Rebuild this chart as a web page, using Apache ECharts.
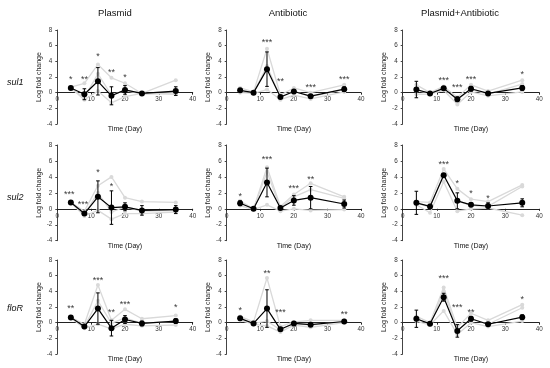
<!DOCTYPE html>
<html><head><meta charset="utf-8">
<script src="https://cdn.jsdelivr.net/npm/echarts@6/dist/echarts.min.js"></script>
<style>html,body{margin:0;padding:0;background:#fff}#c{width:550px;height:368px}</style>
</head><body><div id="c"></div>
<script>
const days = [4, 8, 12, 16, 20, 25, 35];
const xTicks = [0, 10, 20, 30, 40];
const yTicks = [-4, -2, 0, 2, 4, 6, 8];
const genes = ['sul1', 'sul2', 'floR'];
const treatments = ['Plasmid', 'Antibiotic', 'Plasmid+Antibiotic'];

// sul1 / Plasmid
const sul1_plasmid_mean = [0.6, -0.2, 1.45, -0.4, 0.35, -0.1, 0.2];
const sul1_plasmid_err = [0.1, 0.7, 1.75, 1.15, 0.55, 0.1, 0.55];
const sul1_plasmid_rep1 = [0.7, 1.2, 3.6, 1.9, 1.2, -0.1, 1.6];
const sul1_plasmid_rep2 = [0.5, -0.6, 2.4, -0.3, 0.3, -0.2, 0.0];
const sul1_plasmid_rep3 = [0.6, -0.9, 0.2, -1.3, -0.5, -0.1, -0.2];
const sul1_plasmid_stars = [[4, 1.9, '*'], [8, 1.9, '**'], [12, 4.9, '*'], [16, 2.85, '**'], [20, 2.2, '*']];
// sul1 / Antibiotic
const sul1_antibiotic_mean = [0.3, 0.0, 3.0, -0.55, 0.15, -0.45, 0.45];
const sul1_antibiotic_err = [0.2, 0.1, 2.2, 0.2, 0.2, 0.1, 0.3];
const sul1_antibiotic_rep1 = [0.6, 0.1, 5.6, -0.3, 0.6, 0.0, 1.0];
const sul1_antibiotic_rep2 = [0.2, 0.0, 3.4, -0.6, 0.2, -0.5, 0.4];
const sul1_antibiotic_rep3 = [0.0, -0.1, 0.4, -0.9, -0.3, -0.8, 0.1];
const sul1_antibiotic_stars = [[12, 6.7, '***'], [16, 1.7, '**'], [25, 0.95, '***'], [35, 1.9, '***']];
// sul1 / Plasmid+Antibiotic
const sul1_both_mean = [0.4, -0.1, 0.55, -0.85, 0.5, -0.1, 0.6];
const sul1_both_err = [1.05, 0.1, 0.15, 0.3, 0.3, 0.1, 0.3];
const sul1_both_rep1 = [1.0, 0.0, 0.8, -0.6, 1.0, 0.2, 1.6];
const sul1_both_rep2 = [0.3, -0.1, 0.5, -0.9, 0.4, -0.2, 1.1];
const sul1_both_rep3 = [-0.2, -0.2, 0.3, -1.5, 0.1, -0.4, 0.1];
const sul1_both_stars = [[12, 1.8, '***'], [16, 0.95, '***'], [20, 1.9, '***'], [35, 2.6, '*']];
// sul2 / Plasmid
const sul2_plasmid_mean = [0.8, -0.6, 1.5, 0.15, 0.25, -0.2, -0.1];
const sul2_plasmid_err = [0.1, 0.15, 2.0, 2.1, 0.5, 0.6, 0.5];
const sul2_plasmid_rep1 = [0.8, -0.3, 2.9, 4.0, 1.4, 0.9, 0.8];
const sul2_plasmid_rep2 = [0.8, -0.7, 2.0, -0.4, 0.2, -0.3, -0.2];
const sul2_plasmid_rep3 = [0.8, -0.9, -0.2, -1.3, -0.6, -0.6, -0.4];
const sul2_plasmid_stars = [[3.5, 2.0, '***'], [7.6, 0.85, '***'], [12, 4.8, '*'], [16, 3.1, '*']];
// sul2 / Antibiotic
const sul2_antibiotic_mean = [0.7, 0.0, 3.3, 0.1, 1.05, 1.4, 0.6];
const sul2_antibiotic_err = [0.3, 0.1, 1.8, 0.2, 0.6, 1.4, 0.5];
const sul2_antibiotic_rep1 = [1.0, 0.0, 5.2, 0.3, 1.8, 3.2, 1.5];
const sul2_antibiotic_rep2 = [0.8, 0.0, 4.6, 0.1, 1.5, 2.4, 1.3];
const sul2_antibiotic_rep3 = [0.4, -0.1, 0.5, -0.3, 0.0, -0.2, -0.1];
const sul2_antibiotic_stars = [[4, 1.8, '*'], [12, 6.4, '***'], [20, 2.8, '***'], [25, 3.9, '**']];
// sul2 / Plasmid+Antibiotic
const sul2_both_mean = [0.75, 0.3, 4.2, 1.0, 0.5, 0.35, 0.75];
const sul2_both_err = [1.45, 0.1, 0.2, 1.0, 0.2, 0.4, 0.5];
const sul2_both_rep1 = [0.9, 0.8, 5.0, 2.5, 1.2, 0.9, 3.0];
const sul2_both_rep2 = [0.7, 0.2, 4.3, 1.0, 0.4, 0.3, 2.8];
const sul2_both_rep3 = [0.5, -0.5, 3.4, -0.3, 0.0, 0.1, -0.8];
const sul2_both_stars = [[12, 5.8, '***'], [16, 3.45, '*'], [20, 2.2, '*'], [25, 1.55, '*']];
// floR / Plasmid
const floR_plasmid_mean = [0.65, -0.5, 1.8, -0.7, 0.4, -0.1, 0.2];
const floR_plasmid_err = [0.1, 0.1, 2.0, 1.0, 0.5, 0.3, 0.3];
const floR_plasmid_rep1 = [0.7, -0.2, 4.8, 0.3, 1.7, 0.5, 0.9];
const floR_plasmid_rep2 = [0.6, -0.5, 2.8, -0.1, 0.6, -0.1, 0.2];
const floR_plasmid_rep3 = [0.6, -0.7, -0.2, -0.8, -0.2, -0.4, -0.3];
const floR_plasmid_stars = [[4, 2.1, '**'], [12, 5.6, '***'], [16, 1.5, '**'], [20, 2.6, '***'], [35, 2.25, '*']];
// floR / Antibiotic
const floR_antibiotic_mean = [0.55, -0.1, 1.8, -0.85, -0.1, -0.25, 0.15];
const floR_antibiotic_err = [0.2, 0.1, 2.4, 0.2, 0.2, 0.1, 0.2];
const floR_antibiotic_rep1 = [0.8, 0.1, 5.7, -0.5, 0.1, 0.3, 0.3];
const floR_antibiotic_rep2 = [0.5, -0.1, 0.2, -0.9, -0.1, -0.3, 0.1];
const floR_antibiotic_rep3 = [0.3, -0.2, -0.4, -1.2, -0.3, -0.6, 0.0];
const floR_antibiotic_stars = [[4, 1.8, '*'], [12, 6.5, '**'], [16, 1.5, '***'], [35, 1.3, '**']];
// floR / Plasmid+Antibiotic
const floR_both_mean = [0.5, -0.15, 3.25, -1.05, 0.5, -0.2, 0.7];
const floR_both_err = [1.1, 0.1, 0.5, 0.8, 0.3, 0.1, 0.3];
const floR_both_rep1 = [0.8, 0.0, 4.5, -0.6, 1.2, 0.3, 2.3];
const floR_both_rep2 = [0.5, -0.2, 4.0, -1.0, 0.5, -0.2, 1.9];
const floR_both_rep3 = [0.2, -0.3, 1.5, -1.5, 0.0, -0.5, 0.2];
const floR_both_stars = [[12, 5.9, '***'], [16, 2.15, '***'], [20, 1.6, '**'], [35, 3.25, '*']];

const panels = [
  {mean: sul1_plasmid_mean, err: sul1_plasmid_err, reps: [sul1_plasmid_rep1, sul1_plasmid_rep2, sul1_plasmid_rep3], stars: sul1_plasmid_stars},
  {mean: sul1_antibiotic_mean, err: sul1_antibiotic_err, reps: [sul1_antibiotic_rep1, sul1_antibiotic_rep2, sul1_antibiotic_rep3], stars: sul1_antibiotic_stars},
  {mean: sul1_both_mean, err: sul1_both_err, reps: [sul1_both_rep1, sul1_both_rep2, sul1_both_rep3], stars: sul1_both_stars},
  {mean: sul2_plasmid_mean, err: sul2_plasmid_err, reps: [sul2_plasmid_rep1, sul2_plasmid_rep2, sul2_plasmid_rep3], stars: sul2_plasmid_stars},
  {mean: sul2_antibiotic_mean, err: sul2_antibiotic_err, reps: [sul2_antibiotic_rep1, sul2_antibiotic_rep2, sul2_antibiotic_rep3], stars: sul2_antibiotic_stars},
  {mean: sul2_both_mean, err: sul2_both_err, reps: [sul2_both_rep1, sul2_both_rep2, sul2_both_rep3], stars: sul2_both_stars},
  {mean: floR_plasmid_mean, err: floR_plasmid_err, reps: [floR_plasmid_rep1, floR_plasmid_rep2, floR_plasmid_rep3], stars: floR_plasmid_stars},
  {mean: floR_antibiotic_mean, err: floR_antibiotic_err, reps: [floR_antibiotic_rep1, floR_antibiotic_rep2, floR_antibiotic_rep3], stars: floR_antibiotic_stars},
  {mean: floR_both_mean, err: floR_both_err, reps: [floR_both_rep1, floR_both_rep2, floR_both_rep3], stars: floR_both_stars}
];

const FONT = 'Liberation Sans, Arial, sans-serif';
const colLeft = [57.3, 226.7, 402.7], colWidth = [135.4, 134.3, 136.6];
const rowTop = [30, 145, 260], rowHeight = [94, 95.7, 94];
const yMin = yTicks[0], yMax = yTicks[yTicks.length - 1];

const grids = [], xAxes = [], yAxes = [], series = [];
panels.forEach((p, i) => {
  const r = Math.floor(i / 3), c = i % 3;
  grids.push({left: colLeft[c], top: rowTop[r], width: colWidth[c], height: rowHeight[r], containLabel: false});
  // place the x axis (line + labels) at y = 0
  const zeroOffset = -rowHeight[r] * (0 - yMin) / (yMax - yMin);
  xAxes.push({
    type: 'value', gridIndex: i, min: xTicks[0], max: xTicks[xTicks.length - 1], interval: 10,
    position: 'bottom', offset: zeroOffset,
    axisLine: {onZero: false, lineStyle: {color: '#222', width: 1}},
    axisTick: {show: true, length: 2, lineStyle: {color: '#222'}},
    axisLabel: {fontSize: 6.3, color: '#333', margin: 4, fontFamily: FONT},
    splitLine: {show: false}
  });
  yAxes.push({
    type: 'value', gridIndex: i, min: yMin, max: yMax, interval: 2,
    axisLine: {show: true, onZero: false, lineStyle: {color: '#444', width: 1}},
    axisTick: {show: true, length: 2, lineStyle: {color: '#444'}},
    axisLabel: {fontSize: 6.3, color: '#333', margin: 5, fontFamily: FONT},
    splitLine: {show: false},
    name: 'Log fold change', nameLocation: 'middle', nameGap: 15,
    nameTextStyle: {fontSize: 7, color: '#222', fontFamily: FONT}
  });
  p.reps.forEach(rep => series.push({
    type: 'line', xAxisIndex: i, yAxisIndex: i, silent: true, z: 1,
    data: days.map((d, k) => [d, rep[k]]),
    symbol: 'circle', symbolSize: 4,
    lineStyle: {color: '#d9d9d9', width: 1.3}, itemStyle: {color: '#d9d9d9'}
  }));
  series.push({
    type: 'custom', xAxisIndex: i, yAxisIndex: i, silent: true, z: 3,
    encode: {x: 0, y: 1},
    data: days.map((d, k) => [d, p.mean[k], p.err[k]]),
    renderItem: (params, api) => {
      const x = api.value(0), y = api.value(1), e = api.value(2);
      const hi = api.coord([x, y + e]), lo = api.coord([x, y - e]);
      const w = 1.8;
      const st = {stroke: '#000', lineWidth: 1};
      return {type: 'group', children: [
        {type: 'line', shape: {x1: hi[0], y1: hi[1], x2: lo[0], y2: lo[1]}, style: st},
        {type: 'line', shape: {x1: hi[0] - w, y1: hi[1], x2: hi[0] + w, y2: hi[1]}, style: st},
        {type: 'line', shape: {x1: lo[0] - w, y1: lo[1], x2: lo[0] + w, y2: lo[1]}, style: st}
      ]};
    }
  });
  series.push({
    type: 'line', xAxisIndex: i, yAxisIndex: i, silent: true, z: 4,
    data: days.map((d, k) => [d, p.mean[k]]),
    symbol: 'circle', symbolSize: 6,
    lineStyle: {color: '#000', width: 1.2}, itemStyle: {color: '#000'}
  });
  series.push({
    type: 'scatter', xAxisIndex: i, yAxisIndex: i, silent: true, z: 5,
    symbolSize: 1, itemStyle: {color: 'rgba(0,0,0,0)'},
    data: p.stars.map(s => ({value: [s[0], s[1]], name: s[2]})),
    label: {show: true, position: 'inside', formatter: '{b}', fontSize: 9, color: '#000', fontFamily: FONT, offset: [0, 2]}
  });
});

const graphic = [];
const titleX = [115, 288, 460];
treatments.forEach((t, c) => graphic.push({type: 'text', x: titleX[c], y: 13,
  style: {text: t, align: 'center', verticalAlign: 'middle', fontSize: 9.5, fontFamily: FONT, fill: '#111'}}));
const geneY = [82, 197, 308];
genes.forEach((g, r) => graphic.push({type: 'text', x: 7, y: geneY[r],
  style: {text: g, align: 'left', verticalAlign: 'middle', fontSize: 9, fontStyle: 'italic', fontFamily: FONT, fill: '#111'}}));
for (let r = 0; r < 3; r++) for (let c = 0; c < 3; c++) {
  graphic.push({type: 'text', x: colLeft[c] + colWidth[c] / 2, y: rowTop[r] + rowHeight[r] + 5.5,
    style: {text: 'Time (Day)', align: 'center', verticalAlign: 'middle', fontSize: 7, fontFamily: FONT, fill: '#111'}});
}

const chart = echarts.init(document.getElementById('c'), null, {renderer: 'canvas'});
chart.setOption({
  animation: false,
  backgroundColor: '#fff',
  grid: grids, xAxis: xAxes, yAxis: yAxes, series: series, graphic: graphic
});
</script>
</body></html>
